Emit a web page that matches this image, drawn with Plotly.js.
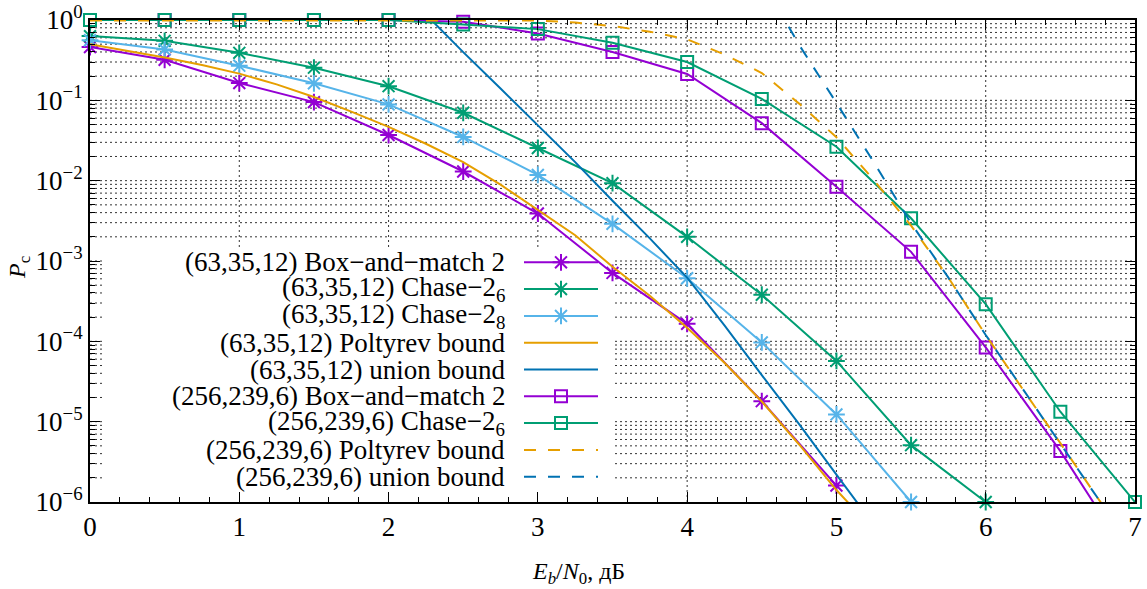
<!DOCTYPE html>
<html>
<head>
<meta charset="utf-8">
<script src="https://cdn.plot.ly/plotly-3.0.1.min.js"></script>
<style>
  html, body { margin: 0; padding: 0; background: #fff; }
  #chart { width: 1147px; height: 589px; }
</style>
</head>
<body>
<div id="chart"></div>
<script>
// ---- Decoding error probability Pc versus Eb/N0 (dB) ----

// (63,35,12) code, Box-and-match 2
const snrBm63 = [0, 0.5, 1, 1.5, 2, 2.5, 3, 3.5, 4, 4.5, 5];
const pcBm63  = [0.46, 0.32, 0.164, 0.095, 0.037, 0.0130, 0.0039, 7.1e-4, 1.65e-4, 1.8e-5, 1.6e-6];

// (63,35,12) code, Chase-2 with 6 test positions
const snrCh6of63 = [0, 0.5, 1, 1.5, 2, 2.5, 3, 3.5, 4, 4.5, 5, 5.5, 6];
const pcCh6of63  = [0.63, 0.55, 0.39, 0.255, 0.15, 0.070, 0.0255, 0.0093, 0.0020, 3.8e-4, 5.7e-5, 5.1e-6, 1.0e-6];

// (63,35,12) code, Chase-2 with 8 test positions
const snrCh8of63 = [0, 0.5, 1, 1.5, 2, 2.5, 3, 3.5, 4, 4.5, 5, 5.5];
const pcCh8of63  = [0.56, 0.43, 0.27, 0.163, 0.089, 0.035, 0.0118, 0.0029, 6.1e-4, 9.7e-5, 1.23e-5, 1.0e-6];

// (63,35,12) code, Poltyrev bound
const snrPolt63 = [0, 0.25, 0.5, 0.75, 1, 1.25, 1.5, 1.75, 2, 2.25, 2.5, 2.75, 3, 3.25, 3.5, 3.75, 4, 4.25, 4.5, 4.75, 5, 5.1];
const pcPolt63  = [0.501, 0.417, 0.341, 0.275, 0.215, 0.158, 0.110, 0.0724, 0.0468, 0.0288, 0.0170, 0.00891, 0.00437, 0.00209, 8.5e-4, 3.7e-4, 1.48e-4, 5.4e-5, 1.78e-5, 5.2e-6, 1.41e-6, 8.9e-7];

// (63,35,12) code, union bound
const snrUnion63 = [2.25, 2.5, 2.75, 3, 3.25, 3.5, 3.75, 4, 4.25, 4.5, 4.75, 5, 5.25];
const pcUnion63  = [1.17, 0.398, 0.140, 0.0490, 0.0170, 0.00562, 0.00191, 6.2e-4, 1.58e-4, 3.8e-5, 9.3e-6, 2.19e-6, 5.2e-7];

// (256,239,6) code, Box-and-match 2
const snrBm256 = [0, 0.5, 1, 1.5, 2, 2.5, 3, 3.5, 4, 4.5, 5, 5.5, 6, 6.5, 7];
const pcBm256  = [1, 1, 1, 1, 1, 0.95, 0.68, 0.40, 0.213, 0.052, 0.0084, 0.0013, 8.4e-5, 4.3e-6, 1.55e-7];

// (256,239,6) code, Chase-2 with 6 test positions
const snrCh6of256 = [0, 0.5, 1, 1.5, 2, 2.5, 3, 3.5, 4, 4.5, 5, 5.5, 6, 6.5, 7];
const pcCh6of256  = [1, 1, 1, 1, 1, 0.88, 0.77, 0.52, 0.30, 0.104, 0.0265, 0.0034, 2.9e-4, 1.33e-5, 1.0e-6];

// (256,239,6) code, Poltyrev bound
const snrPolt256 = [0, 3, 3.25, 3.5, 3.75, 4, 4.25, 4.5, 4.75, 5, 5.25, 5.5, 5.75, 6, 6.25, 6.5, 6.75, 6.8];
const pcPolt256  = [0.985, 0.985, 0.93, 0.84, 0.716, 0.575, 0.372, 0.219, 0.091, 0.0347, 0.0102, 0.00275, 6.2e-4, 1.2e-4, 2.5e-5, 5.4e-6, 1.12e-6, 8.3e-7];

// (256,239,6) code, union bound
const snrUnion256 = [4.6, 4.75, 5, 5.25, 5.5, 5.75, 6, 6.25, 6.5, 6.75, 6.8];
const pcUnion256  = [1.5, 0.49, 0.093, 0.017, 0.00295, 6.2e-4, 1.2e-4, 2.5e-5, 5.4e-6, 1.12e-6, 8.3e-7];

// Axis ticks
const xTickVals = [0, 1, 2, 3, 4, 5, 6, 7];
const yExponents = [-6, -5, -4, -3, -2, -1, 0];

// ---- Styling ----
const C = { violet: '#9400D3', green: '#009E73', sky: '#56B4E9', orange: '#E69F00', blue: '#0072B2' };
const SERIF = '"Liberation Serif", serif';

const series = [
  { x: snrBm63,     y: pcBm63,     label: '(63,35,12) Box\u2212and\u2212match 2', color: C.violet, symbol: 'asterisk-open', size: 14 },
  { x: snrCh6of63,  y: pcCh6of63,  label: '(63,35,12) Chase\u22122<sub>6</sub>', color: C.green,  symbol: 'asterisk-open', size: 14 },
  { x: snrCh8of63,  y: pcCh8of63,  label: '(63,35,12) Chase\u22122<sub>8</sub>', color: C.sky,    symbol: 'asterisk-open', size: 14 },
  { x: snrPolt63,   y: pcPolt63,   label: '(63,35,12) Poltyrev bound',           color: C.orange },
  { x: snrUnion63,  y: pcUnion63,  label: '(63,35,12) union bound',              color: C.blue },
  { x: snrBm256,    y: pcBm256,    label: '(256,239,6) Box\u2212and\u2212match 2', color: C.violet, symbol: 'square-open', size: 12 },
  { x: snrCh6of256, y: pcCh6of256, label: '(256,239,6) Chase\u22122<sub>6</sub>', color: C.green,  symbol: 'square-open', size: 12 },
  { x: snrPolt256,  y: pcPolt256,  label: '(256,239,6) Poltyrev bound',          color: C.orange, dash: '12px,12px' },
  { x: snrUnion256, y: pcUnion256, label: '(256,239,6) union bound',             color: C.blue,   dash: '12px,12px' }
];

// Plot-area geometry in page pixels, used for the key and titles
const L = 90, R = 1135, T = 20, B = 502;
const fx = p => (p - L) / (R - L);
const fy = p => 1 - (p - T) / (B - T);

const traces = [];
series.forEach(s => {
  const t = {
    type: 'scatter', x: s.x, y: s.y, xaxis: 'x', yaxis: 'y',
    mode: s.symbol ? 'lines+markers' : 'lines',
    line: { color: s.color, width: 2, dash: s.dash || 'solid' },
    showlegend: false, hoverinfo: 'skip', cliponaxis: false
  };
  if (s.symbol) {
    t.marker = {
      symbol: s.symbol, size: s.size, color: s.color,
      line: { color: s.color, width: 2 },
      // hide markers of points that fall outside the plotted range
      opacity: s.y.map(v => (v >= 1e-6 && v <= 1.0001) ? 1 : 0)
    };
  }
  traces.push(t);
});

// Key: text right-aligned, sample to the right (overlay axis spanning the plot area 0..1)
const keyRow0 = 262.3, keyStep = 26.8;
const keyTextRight = 507, keyLine0 = 524, keyLine1 = 598, keyMark = 561;
const KEY_FONT = 27;
const annotations = [];
series.forEach((s, i) => {
  const yr = fy(keyRow0 + keyStep * i);
  traces.push({
    type: 'scatter', xaxis: 'x2', yaxis: 'y2',
    x: [fx(keyLine0), fx(keyLine1)], y: [yr, yr], mode: 'lines',
    line: { color: s.color, width: 2, dash: s.dash || 'solid' },
    showlegend: false, hoverinfo: 'skip'
  });
  if (s.symbol) {
    traces.push({
      type: 'scatter', xaxis: 'x2', yaxis: 'y2',
      x: [fx(keyMark)], y: [yr], mode: 'markers',
      marker: { symbol: s.symbol, size: s.size, color: s.color, line: { color: s.color, width: 2 } },
      showlegend: false, hoverinfo: 'skip'
    });
  }
  annotations.push({
    xref: 'paper', yref: 'paper', x: fx(keyTextRight), y: yr,
    xanchor: 'right', yanchor: 'middle', showarrow: false,
    text: s.label, font: { family: SERIF, size: KEY_FONT, color: '#000' }
  });
});

// Axis titles
annotations.push({
  xref: 'paper', yref: 'paper', x: fx(578), y: fy(573),
  xanchor: 'center', yanchor: 'middle', showarrow: false,
  text: '<i>E<sub>b</sub></i>/<i>N</i><sub>0</sub>, дБ',
  font: { family: SERIF, size: 24, color: '#000' }
});
annotations.push({
  xref: 'paper', yref: 'paper', x: fx(19), y: fy(268),
  xanchor: 'center', yanchor: 'middle', showarrow: false, textangle: -90,
  text: '<i>P</i><sub>c</sub>',
  font: { family: SERIF, size: 24, color: '#000' }
});

const yTickVals = yExponents.map(e => Math.pow(10, e));
const yTickText = yExponents.map(e => '10<sup>' + (e < 0 ? '\u2212' + (-e) : e) + '</sup>');
const yMinor = [];
yExponents.slice(0, -1).forEach(e => { for (let k = 2; k <= 9; k++) yMinor.push(k * Math.pow(10, e)); });

// Dotted grid drawn as shapes so the opaque key box can sit over it and under the curves
const gridLine = { color: '#333', width: 1, dash: '2px,3px' };
const shapes = [];
xTickVals.slice(1, -1).forEach(v => shapes.push({
  type: 'line', xref: 'x domain', yref: 'y domain', x0: v / 7, x1: v / 7, y0: 0, y1: 1,
  line: gridLine, layer: 'below'
}));
yTickVals.slice(1, -1).concat(yMinor).forEach(v => {
  const f = (Math.log10(v) + 6) / 6;
  shapes.push({ type: 'line', xref: 'x domain', yref: 'y domain', x0: 0, x1: 1, y0: f, y1: f,
                line: gridLine, layer: 'below' });
});
shapes.push({
  type: 'rect', xref: 'x domain', yref: 'y domain',
  x0: fx(105), x1: fx(612), y0: 0, y1: fy(247),
  fillcolor: '#fff', line: { width: 0 }, layer: 'below'
});

const TICK_FONT = { family: SERIF, size: 27, color: '#000' };

const layout = {
  width: 1147, height: 589,
  margin: { l: L, r: 1147 - R, t: T, b: 589 - B, pad: 0 },
  paper_bgcolor: '#fff', plot_bgcolor: 'rgba(0,0,0,0)',
  showlegend: false,
  font: { family: SERIF, color: '#000' },
  xaxis: {
    range: [0, 7], tickmode: 'array', tickvals: xTickVals,
    ticks: 'inside', ticklen: 10, tickwidth: 1, tickcolor: '#000',
    showline: true, linewidth: 2, linecolor: '#000', mirror: 'ticks',
    showgrid: false, zeroline: false,
    minor: { dtick: 0.2, tick0: 0, ticks: 'inside', ticklen: 5, tickwidth: 1, tickcolor: '#000', showgrid: false },
    tickfont: TICK_FONT
  },
  yaxis: {
    type: 'log', range: [-6, 0], tickmode: 'array', tickvals: yTickVals, ticktext: yTickText,
    ticks: 'inside', ticklen: 10, tickwidth: 1, tickcolor: '#000',
    showline: true, linewidth: 2, linecolor: '#000', mirror: 'ticks',
    showgrid: false, zeroline: false,
    minor: { tickmode: 'array', tickvals: yMinor, ticks: 'inside', ticklen: 5, tickwidth: 1, tickcolor: '#000', showgrid: false },
    tickfont: TICK_FONT
  },
  xaxis2: { overlaying: 'x', range: [0, 1], visible: false, fixedrange: true },
  yaxis2: { overlaying: 'y', range: [0, 1], visible: false, fixedrange: true },
  shapes: shapes,
  annotations: annotations
};

Plotly.newPlot('chart', traces, layout, { staticPlot: true, displayModeBar: false });
</script>
</body>
</html>
